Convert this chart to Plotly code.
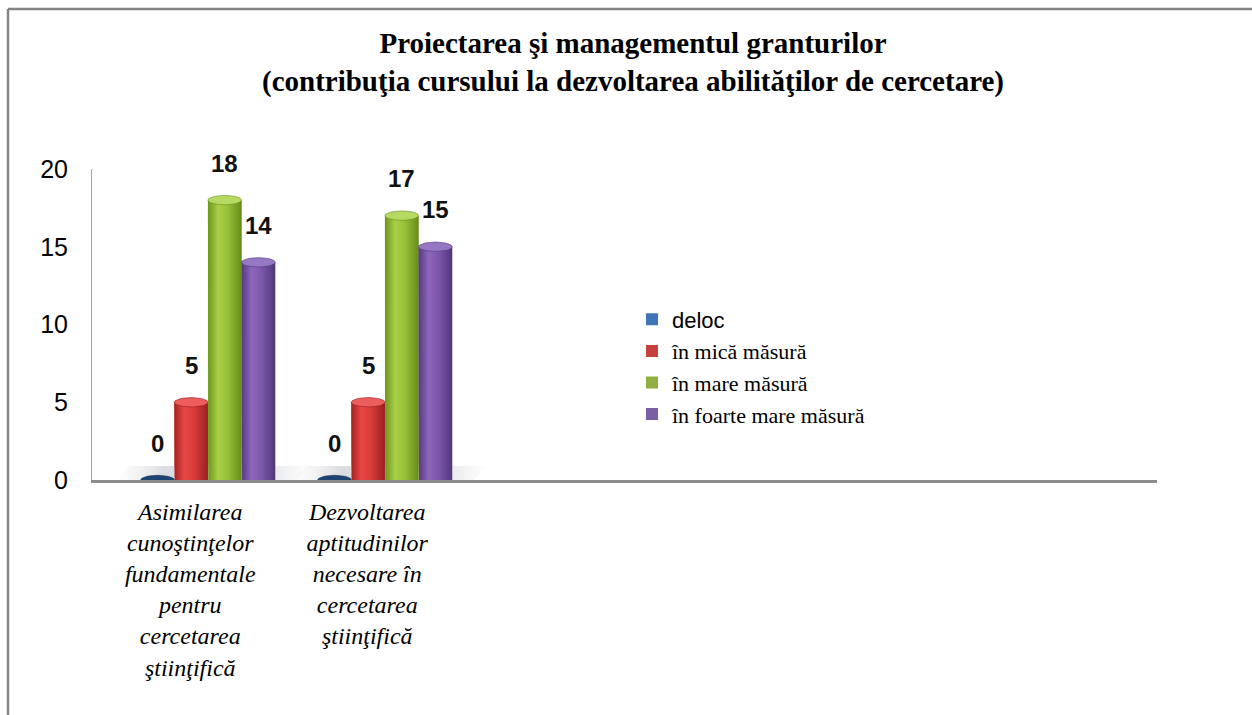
import plotly.graph_objects as go
import numpy as np

# ---- data -------------------------------------------------------------
categories = [
    "Asimilarea<br>cunoştinţelor<br>fundamentale<br>pentru<br>cercetarea<br>ştiinţifică",
    "Dezvoltarea<br>aptitudinilor<br>necesare în<br>cercetarea<br>ştiinţifică",
]
series_names = ["deloc", "în mică măsură", "în mare măsură", "în foarte mare măsură"]
values_deloc = [0, 0]
values_mica = [5, 5]
values_mare = [18, 17]
values_foarte = [14, 15]
y_ticks = [0, 5, 10, 15, 20]

series_values = [values_deloc, values_mica, values_mare, values_foarte]

# ---- styling ----------------------------------------------------------
legend_colors = ["#3f74b8", "#c8403c", "#8fb041", "#7a5ea6"]
body_scales = [
    [[0, "#12304f"], [0.4, "#2c5a8f"], [1, "#142f52"]],
    [[0, "#a52222"], [0.3, "#e84747"], [0.6, "#d83a3a"], [1, "#982020"]],
    [[0, "#6c961c"], [0.3, "#a8cf47"], [0.6, "#97bf38"], [1, "#658c1a"]],
    [[0, "#573a80"], [0.3, "#8c66bb"], [0.6, "#7b57ab"], [1, "#513778"]],
]
cap_colors = ["#1c4372", "#ec5d5d", "#b6d961", "#9677c4"]
label_font = dict(family="Liberation Sans", size=24, color="#111111")

BAR_W = 0.19                     # width of one cylinder (axis units)
CAP_B = 0.30                     # half-height of the elliptical cap (y units)
LABEL_SHIFT = -0.1               # perspective shift of category labels
n_series = len(series_names)
offsets = [(-n_series / 2 + i) * BAR_W for i in range(n_series)]
cat_x = np.arange(len(categories), dtype=float)

fig = go.Figure()

# floor shadow under each group
for cx in cat_x:
    fx = [cx - 0.52, cx + 0.50, cx + 0.58, cx - 0.44, cx - 0.52]
    fy = [0, 0, 0.9, 0.9, 0]
    fig.add_trace(go.Scatter(
        x=fx, y=fy, mode="lines", fill="toself", line=dict(width=0),
        fillgradient=dict(type="horizontal", start=cx - 0.52, stop=cx + 0.58,
                          colorscale=[[0, "rgba(215,215,220,0)"],
                                      [0.25, "rgba(190,192,200,0.55)"],
                                      [0.75, "rgba(195,197,205,0.55)"],
                                      [1, "rgba(215,215,220,0)"]]),
        hoverinfo="skip", showlegend=False))

# plain bars (legend entries and base colour)
for i, (name, vals) in enumerate(zip(series_names, series_values)):
    label = name if i else '<span style="font-family:Liberation Sans">%s</span>' % name
    fig.add_trace(go.Bar(
        x=cat_x, y=vals, name=label, width=BAR_W, offset=offsets[i],
        marker=dict(color=legend_colors[i], line=dict(width=0)),
        hoverinfo="y"))

# cylinder shading drawn over each bar
t = np.linspace(0, np.pi, 40)
tt = np.linspace(0, 2 * np.pi, 60)
for i, vals in enumerate(series_values):
    for cx, v in zip(cat_x, vals):
        x0 = cx + offsets[i]
        x1 = x0 + BAR_W
        xm, a = (x0 + x1) / 2, BAR_W / 2
        # body: side walls with a rounded bottom
        bx = [x0, x0] + list(xm - a * np.cos(t)) + [x1, x1, x0]
        by = [v, 0] + list(-CAP_B * np.sin(t)) + [0, v, v]
        if v > 0:
            fig.add_trace(go.Scatter(
                x=bx, y=by, mode="lines", fill="toself", line=dict(width=0),
                fillgradient=dict(type="horizontal", start=x0, stop=x1,
                                  colorscale=body_scales[i]),
                hoverinfo="skip", showlegend=False))
        # elliptical top
        fig.add_trace(go.Scatter(
            x=list(xm + a * np.cos(tt)), y=list(v + CAP_B * np.sin(tt)),
            mode="lines", fill="toself",
            line=dict(width=0.6, color=body_scales[i][-1][1]),
            fillcolor=cap_colors[i], hoverinfo="skip", showlegend=False))

# value labels
for i, vals in enumerate(series_values):
    for cx, v in zip(cat_x, vals):
        fig.add_annotation(x=cx + offsets[i] + BAR_W / 2, y=v, text="<b>%d</b>" % v,
                           showarrow=False, yshift=37, yanchor="middle",
                           font=label_font)

# chart frame (top and left edges; the rest runs off the page)
L, R, T, B = 92, 95, 169, 235
PW, PH = 1252 - L - R, 715 - T - B
def px_x(p):
    return (p - L) / PW
def px_y(p):
    return (715 - B - p) / PH
frame = dict(type="line", xref="paper", yref="paper",
             line=dict(color="#858585", width=2.5), layer="above")
fig.add_shape(x0=px_x(8), x1=px_x(1260), y0=px_y(9), y1=px_y(9), **frame)
fig.add_shape(x0=px_x(8), x1=px_x(8), y0=px_y(9), y1=px_y(730), **frame)

fig.update_layout(
    width=1252, height=715,
    margin=dict(l=L, r=R, t=T, b=B),
    paper_bgcolor="white", plot_bgcolor="white",
    barmode="overlay",
    title=dict(
        text="<b>Proiectarea şi managementul granturilor<br>"
             "(contribuţia cursului la dezvoltarea abilităţilor de cercetare)</b>",
        font=dict(family="Liberation Serif", size=29, color="#000000"),
        x=633 / 1252, xanchor="center", xref="container",
        y=1 - 53 / 715, yanchor="top", yref="container"),
    xaxis=dict(
        range=[-0.655, 5.362], tickmode="array",
        tickvals=list(cat_x + LABEL_SHIFT), ticktext=categories,
        tickfont=dict(family="Liberation Serif", size=24, style="italic", color="#000"),
        showgrid=False, zeroline=False, showline=True, linecolor="#8c8c8c",
        linewidth=2.5, ticks="", ticklabelstandoff=8),
    yaxis=dict(
        range=[0, 20], tickmode="array", tickvals=y_ticks,
        tickfont=dict(family="Liberation Sans", size=25, color="#000"),
        showgrid=False, zeroline=False, showline=True, linecolor="#a6a6a6",
        linewidth=1, ticks="", ticklabelstandoff=18),
    legend=dict(
        x=px_x(632), xanchor="left", y=px_y(367), yanchor="middle",
        font=dict(family="Liberation Serif", size=22, color="#000"),
        bgcolor="rgba(0,0,0,0)", traceorder="normal"),
    showlegend=True,
)

fig.write_html("out.html")
